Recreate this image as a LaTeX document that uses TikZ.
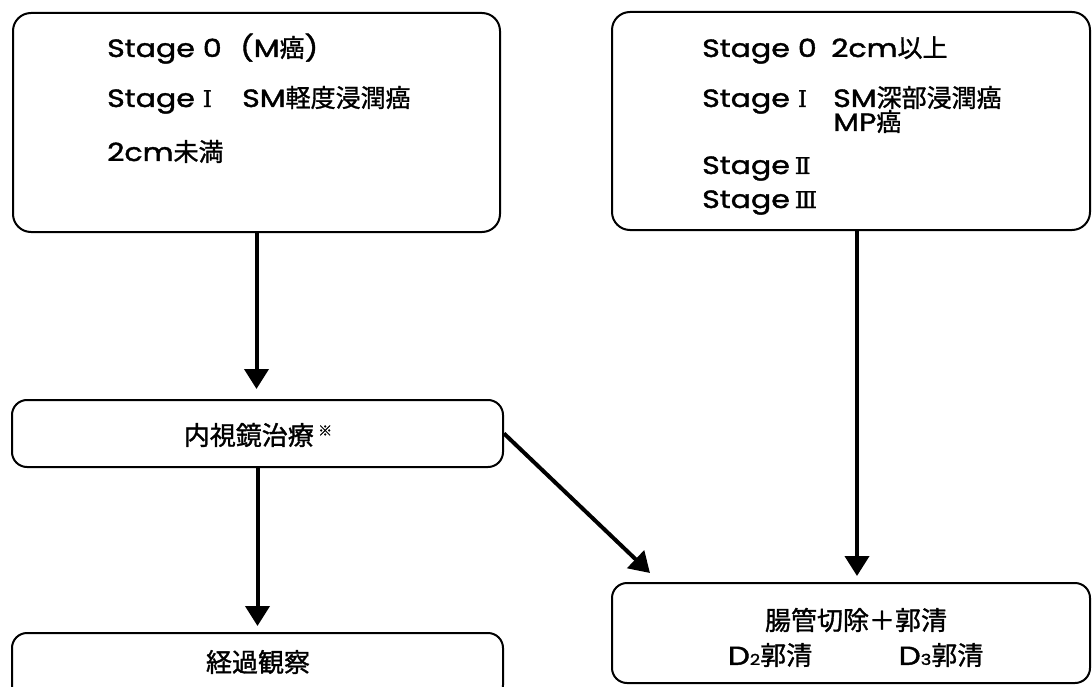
\documentclass[tikz,border=0pt]{standalone}
\usepackage{fontspec}
\setmainfont{Noto Sans CJK JP}[FakeBold=1.2]
\newfontfamily\lat[FakeStretch=1.2,FakeBold=1.6]{Poppins}
\newfontfamily\rom[FakeBold=1.5]{DejaVu Serif}
\usetikzlibrary{arrows.meta}
\begin{document}
\begin{tikzpicture}[x=1pt,y=-1pt,
  box/.style={draw, line width=2pt, rounded corners=18pt, inner sep=0pt},
  arr/.style={line width=4pt, -{Triangle[width=24pt,length=20pt]}},
  txt/.style={anchor=base west, inner sep=0pt, font=\fontsize{25}{30}\selectfont},
  ctxt/.style={anchor=center, inner sep=0pt, font=\fontsize{26}{30}\selectfont},
  numeral/.style={}]
\clip (0,0) rectangle (1092,687);
\fill[white] (0,0) rectangle (1092,687);
% boxes
\node[box, minimum width=487pt, minimum height=219pt] (b1) at (256.5,122.5) {};
\node[box, minimum width=478pt, minimum height=218pt] (b2) at (851,121) {};
\node[box, minimum width=491pt, minimum height=67pt, rounded corners=15pt] (b3) at (257.5,433.5) {};
\node[box, minimum width=491pt, minimum height=67pt, rounded corners=15pt] (b4) at (257.5,666.5) {};
\node[box, minimum width=478pt, minimum height=100pt, rounded corners=15pt] (b5) at (851,633) {};
% texts box 1
\node[txt] (t11) at (107,57) {\lat Stage 0};
\node[txt] (t12) at (240,57) {{\lat (M}癌{\lat )}};
\node[txt] (t13) at (107,107) {{\lat Stage }{\rom\fontsize{23}{23}\selectfont Ⅰ}};
\node[txt] (t14) at (242,107) {{\lat SM}軽度浸潤癌};
\node[txt] (t15) at (107,161) {{\lat 2cm}未満};
% texts box 2
\node[txt] (t21) at (702,57) {\lat Stage 0};
\node[txt] (t22) at (831,57) {{\lat 2cm}以上};
\node[txt] (t23) at (702,107) {{\lat Stage }{\rom\fontsize{23}{23}\selectfont Ⅰ}};
\node[txt] (t24) at (833,107) {{\lat SM}深部浸潤癌};
\node[txt] (t25) at (833,131) {{\lat MP}癌};
\node[txt] (t26) at (702,174) {{\lat Stage}\hspace{5pt}{\rom\fontsize{23}{23}\selectfont Ⅱ}};
\node[txt] (t27) at (702,208) {{\lat Stage}\hspace{5pt}{\rom\fontsize{23}{23}\selectfont Ⅲ}};
% texts other boxes
\node[ctxt] (t3) at (258,435) {内視鏡治療\,\raisebox{0.35em}{\fontsize{14}{14}\selectfont ※}};
\node[ctxt] (t4) at (258,662) {経過観察};
\node[ctxt] (t51) at (856,620) {腸管切除＋郭清};
\node[ctxt] (t52) at (770,655) {{\lat D{\fontsize{15}{15}\selectfont 2}}郭清};
\node[ctxt] (t53) at (941,655) {{\lat D{\fontsize{15}{15}\selectfont 3}}郭清};
% arrows
\coordinate (d4) at (650,573);
\draw[arr, shorten >=10pt] (b1.south) -- (b1.south |- b3.north);
\draw[arr, shorten >=6pt] ([xshift=6pt]b2.south) -- ([xshift=6pt]b2.south |- b5.north);
\draw[arr, shorten >=6pt] (b3.south) -- (b3.south |- b4.north);
\draw[arr] (b3.east) -- (d4);
\end{tikzpicture}
\end{document}
